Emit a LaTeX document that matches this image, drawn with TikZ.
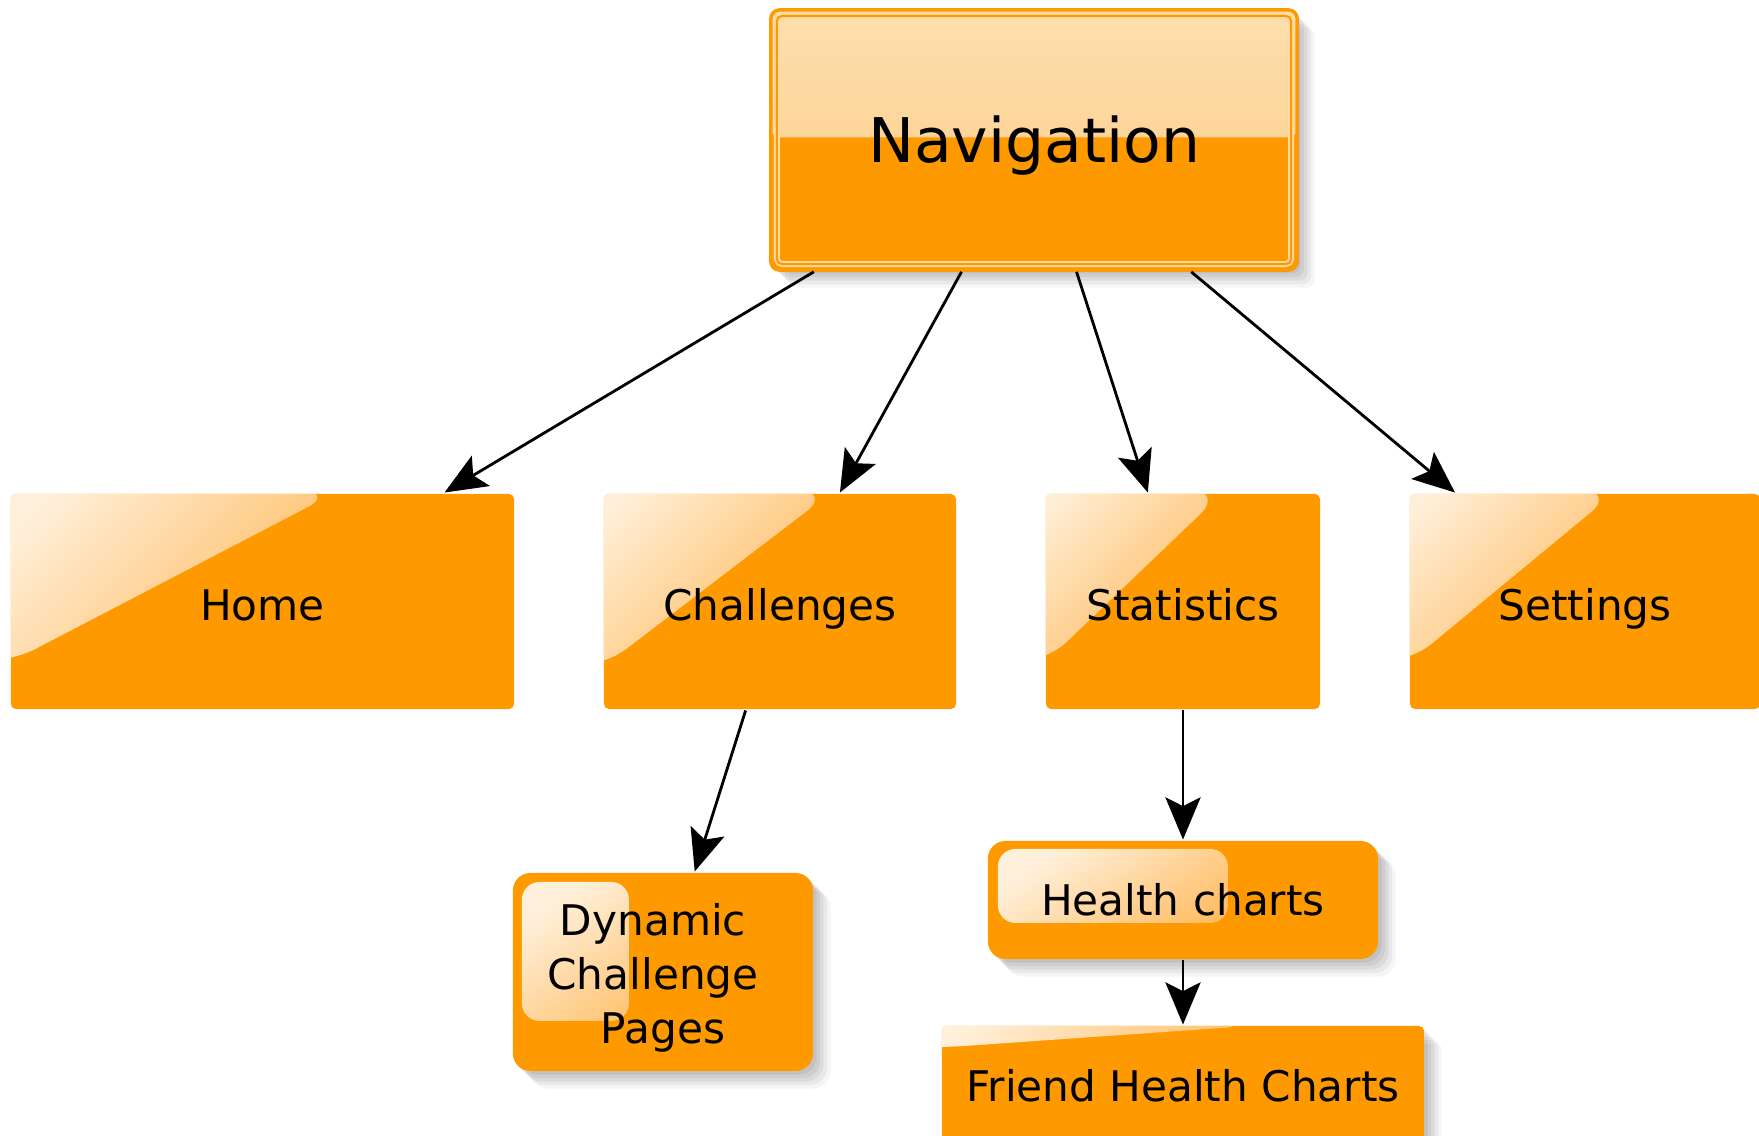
\documentclass[tikz,border=0pt]{standalone}
\usepackage{fontspec}
\setmainfont{DejaVu Sans}
\usetikzlibrary{arrows.meta,calc,shadows}

\definecolor{boxorange}{HTML}{FF9900}
\definecolor{glosshi}{HTML}{FFF0DB}
\definecolor{glossmid}{HTML}{FFBC5C}
\definecolor{glosslo}{HTML}{FFA122}
\definecolor{navtop}{HTML}{FDDFAE}
\definecolor{navmid}{HTML}{FCCB84}
\definecolor{navline}{HTML}{FFD9A3}

\tikzset{
  pagebox/.style={rectangle, rounded corners=1.5pt, fill=boxorange, inner sep=0pt,
    align=center, text=black, font=\fontsize{12}{15.3}\selectfont},
  oneline/.style={text height=10.8pt, text depth=0pt},
  % soft shadow: some weak shadows on top of each other
  shadowed/.style={drop shadow={shadow xshift=1pt, shadow yshift=-1pt, opacity=.06, fill=black},
    drop shadow={shadow xshift=2pt, shadow yshift=-2pt, opacity=.06, fill=black},
    drop shadow={shadow xshift=3pt, shadow yshift=-3pt, opacity=.06, fill=black},
    drop shadow={shadow xshift=4pt, shadow yshift=-4pt, opacity=.05, fill=black},
    drop shadow={shadow xshift=5pt, shadow yshift=-5pt, opacity=.04, fill=black}},
  % gloss cut off on the diagonal, top left corner
  diaggloss/.style 2 args={path picture={
    \shade[top color=glosshi, middle color=glossmid, bottom color=glosslo, shading angle=45, rounded corners=8pt]
      ($(path picture bounding box.north west)+(-40,-40)$)
      -- ($(path picture bounding box.north west)!#1!(path picture bounding box.north east)$)
      -- ($(path picture bounding box.north west)!#2!(path picture bounding box.south west)$)
      -- ++(-40,0) -- cycle;}},
  % gloss as a small rounded box inside
  rectgloss/.style n args={4}{path picture={
    \shade[top color=glosshi, middle color=glossmid, bottom color=glosslo, shading angle=35, rounded corners=5pt]
      ($(path picture bounding box.north west)+(#1,#2)$)
      rectangle ($(path picture bounding box.north west)+(#3,#4)$);}},
  navbox/.style={rectangle, rounded corners=2.5pt, fill=boxorange, draw=boxorange, line width=1pt,
    inner sep=0pt, text=black, font=\fontsize{17.5}{21}\selectfont, text height=12.8pt, text depth=0pt,
    path picture={
      \shade[top color=navtop, bottom color=navmid]
        (path picture bounding box.north west)
        rectangle ($(path picture bounding box.north east)!0.49!(path picture bounding box.south east)$);
      \draw[navline, line width=0.55pt, double=boxorange, double distance=0.6pt, rounded corners=1.5pt]
        ($(path picture bounding box.north west)+(6,6)$)
        rectangle ($(path picture bounding box.south east)+(-6,-6)$);}},
  >={Stealth[length=12pt, width=10pt, inset=2.5pt]}
}

\begin{document}
\begin{tikzpicture}[x=0.01cm, y=-0.01cm, line width=0.8pt]
\useasboundingbox (0,0) rectangle (1759,1136);
\node[navbox, shadowed, minimum width=5.26cm, minimum height=2.60cm] (nav) at (1034,140) {Navigation};
\node[pagebox, oneline, diaggloss={0.64}{0.78}, minimum width=5.03cm, minimum height=2.15cm] (home) at (262.5,601.5) {Home};
\node[pagebox, oneline, diaggloss={0.64}{0.80}, minimum width=3.52cm, minimum height=2.15cm] (chal) at (780,601.5) {Challenges};
\node[pagebox, oneline, diaggloss={0.64}{0.78}, minimum width=2.74cm, minimum height=2.15cm] (stat) at (1183,601.5) {Statistics};
\node[pagebox, oneline, diaggloss={0.58}{0.78}, minimum width=3.50cm, minimum height=2.15cm] (sett) at (1585,601.5) {Settings};
\node[pagebox, shadowed, rounded corners=5pt, rectgloss={9}{9}{116}{148}, minimum width=3.00cm, minimum height=1.98cm] (dyn) at (663,972) {\rule{0pt}{12.5pt}Dynamic\kern0.2cm\\Challenge\kern0.2cm\\Pages};
\node[pagebox, shadowed, rounded corners=5pt, text height=8.8pt, text depth=0pt, rectgloss={10}{8}{240}{82}, minimum width=3.90cm, minimum height=1.18cm] (health) at (1183,900) {Health charts};
\node[pagebox, shadowed, text height=8.8pt, text depth=0pt, diaggloss={0.64}{0.18}, minimum width=4.82cm, minimum height=1.20cm] (friend) at (1183,1086) {Friend Health Charts};

\draw[->] (nav) -- (home);
\draw[->] (nav) -- (chal);
\draw[->] (nav) -- (stat);
\draw[->] (nav) -- (sett);
\draw[->] (chal) -- (dyn);
\draw[->] (stat) -- (health);
\draw[->] (health) -- (friend);

\end{tikzpicture}
\end{document}
